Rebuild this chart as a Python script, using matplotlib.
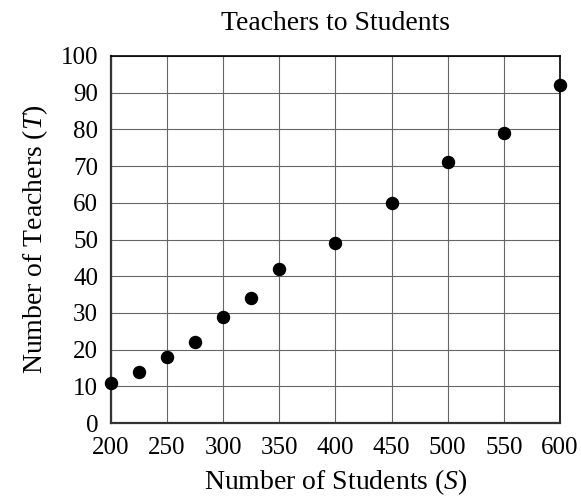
import matplotlib
matplotlib.use('Agg')
import matplotlib.pyplot as plt

# Datos: estudiantes (S) y profesores (T)
students = [200, 225, 250, 275, 300, 325, 350, 400, 450, 500, 550, 600]
teachers = [11, 14, 18, 22, 29, 34, 42, 49, 60, 71, 79, 92]

x_ticks = [200, 250, 300, 350, 400, 450, 500, 550, 600]
y_ticks = [0, 10, 20, 30, 40, 50, 60, 70, 80, 90, 100]

plt.rcParams['font.family'] = ['Liberation Serif', 'DejaVu Serif']
plt.rcParams['mathtext.fontset'] = 'custom'
plt.rcParams['mathtext.it'] = 'Liberation Serif:italic'
plt.rcParams['mathtext.rm'] = 'Liberation Serif'

fig = plt.figure(figsize=(5.81, 5.0), dpi=100)
ax = fig.add_axes([0.1905, 0.154, 0.7735, 0.734])

ax.scatter(students, teachers, s=75, color='black', zorder=3, clip_on=False)

ax.set_xlim(200, 600)
ax.set_ylim(0, 100)
ax.set_xticks(x_ticks)
ax.set_yticks(y_ticks)
ax.tick_params(length=0, labelsize=18)
ax.tick_params(axis='x', pad=10)
ax.tick_params(axis='y', pad=9)
ax.grid(True, color='#666666', linewidth=0.8)
ax.set_axisbelow(True)
for side in ['left', 'bottom']:
    ax.spines[side].set_linewidth(1.6)
    ax.spines[side].set_color('#333333')
for side in ['top', 'right']:
    ax.spines[side].set_linewidth(1.2)

ax.set_title('Teachers to Students', fontsize=20, pad=19)
ax.set_xlabel('Number of Students ($S$)', fontsize=20, labelpad=6)
ax.set_ylabel('Number of Teachers ($T$)', fontsize=20, labelpad=8)

plt.savefig('out.png', dpi=100)
